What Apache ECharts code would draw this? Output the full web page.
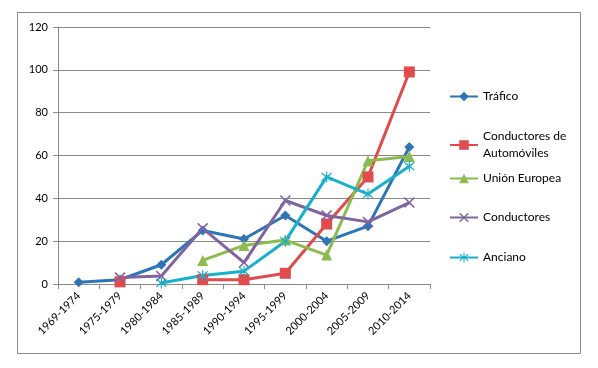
<!DOCTYPE html>
<html><head><meta charset="utf-8">
<script src="https://cdn.jsdelivr.net/npm/echarts@6/dist/echarts.min.js"></script>
<style>html,body{margin:0;padding:0;background:#fff}#c{width:598px;height:368px}</style>
</head><body><div id="c"></div>
<script>
const categories = ['1969-1974','1975-1979','1980-1984','1985-1989','1990-1994','1995-1999','2000-2004','2005-2009','2010-2014'];
const trafico = [0.8, 2, 9, 25, 21, 32, 20, 27, 64];
const conductoresAuto = [null, 1, null, 2, 2, 5, 28, 50, 99];
const unionEuropea = [null, null, null, 11, 18, 20.5, 13.5, 57.5, 59.5];
const conductores = [null, 3, 3.7, 26, 10, 39, 32, 29, 38];
const anciano = [null, null, 0.5, 4, 6, 20, 50, 42, 55];
const yTicks = {min: 0, max: 120, interval: 20};

const FONT = 'Lato, "Liberation Sans", sans-serif';
const xPath = 'path://M0,1 L1,0 L5,4 L9,0 L10,1 L6,5 L10,9 L9,10 L5,6 L1,10 L0,9 L4,5 Z';
const astPath = 'path://M4.5,0 L5.5,0 L5.5,4 L9,1 L9.7,1.7 L6.2,5 L9.7,8.3 L9,9 L5.5,6 L5.5,10 L4.5,10 L4.5,6 L1,9 L0.3,8.3 L3.8,5 L0.3,1.7 L1,1 L4.5,4 Z';

function mk(name, data, color, symbol, size) {
  return {name, type: 'line', data, connectNulls: false, symbol, symbolSize: size,
    lineStyle: {color, width: 3}, itemStyle: {color}, emphasis: {disabled: true}};
}
const series = [
  mk('Tráfico', trafico, '#2E75B6', 'diamond', 10),
  mk('Conductores de\nAutomóviles', conductoresAuto, '#E04B4B', 'rect', 11),
  mk('Unión Europea', unionEuropea, '#8CBB4F', 'triangle', 11),
  mk('Conductores', conductores, '#8064A2', xPath, 11),
  mk('Anciano', anciano, '#1AAFCB', astPath, 11)
];
const legendTops = [88, 128, 170, 209, 249];
const legends = series.map((s, i) => ({
  data: [s.name], left: 449, top: legendTops[i], orient: 'vertical',
  itemWidth: 28, itemHeight: 12, itemGap: 2, padding: 0, selectedMode: false,
  textStyle: {fontFamily: FONT, fontSize: 12, color: '#000', lineHeight: 17}
}));

const chart = echarts.init(document.getElementById('c'));
chart.setOption({
  animation: false,
  backgroundColor: '#fff',
  graphic: [{type: 'rect', shape: {x: 17.5, y: 12.5, width: 563, height: 341},
    style: {fill: 'none', stroke: '#8a8a8a', lineWidth: 1}, silent: true}],
  legend: legends,
  grid: {left: 58, right: 168, top: 27, bottom: 84},
  xAxis: {type: 'category', data: categories, boundaryGap: true,
    axisLine: {lineStyle: {color: '#8a8a8a', width: 1}},
    axisTick: {show: true, alignWithLabel: false, length: 5, lineStyle: {color: '#8a8a8a'}},
    axisLabel: {rotate: 45, fontFamily: FONT, fontSize: 11, color: '#000', margin: 10, interval: 0}},
  yAxis: {type: 'value', min: yTicks.min, max: yTicks.max, interval: yTicks.interval,
    axisLine: {show: true, lineStyle: {color: '#8a8a8a'}},
    axisTick: {show: true, length: 5, lineStyle: {color: '#8a8a8a'}},
    splitLine: {lineStyle: {color: '#8a8a8a', width: 1}},
    axisLabel: {fontFamily: FONT, fontSize: 11, color: '#000', margin: 10}},
  series
});
</script></body></html>
